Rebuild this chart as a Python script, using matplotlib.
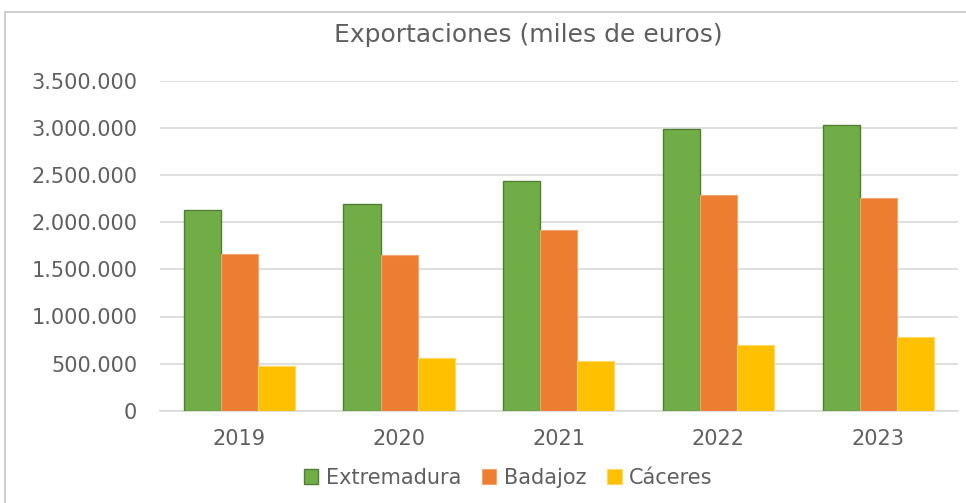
import matplotlib.pyplot as plt
import matplotlib.patches as mpatches
import numpy as np
from matplotlib.ticker import FuncFormatter

years = ['2019', '2020', '2021', '2022', '2023']
extremadura = [2126000, 2193000, 2441000, 2987000, 3030000]
badajoz = [1663000, 1649000, 1917000, 2295000, 2256000]
caceres = [477000, 561000, 530000, 699000, 784000]

plt.rcParams['font.family'] = ['DejaVu Sans']

fig = plt.figure(figsize=(9.66, 5.03), dpi=100)
ax = fig.add_axes([159.5/966, 1-410.7/503, (958-159.5)/966, (410.7-81)/503])

# marco del grafico
fig.patches.append(mpatches.Rectangle((5/966, -0.02), 1.0, 1.02-12/503, transform=fig.transFigure,
                                      fill=False, edgecolor='#d0d0d0', linewidth=1.5))

x = np.arange(len(years))
w = 0.232
ax.bar(x-w, extremadura, w, color='#70AD47', edgecolor='#507e32', linewidth=1, label='Extremadura', zorder=3)
ax.bar(x, badajoz, w, color='#ED7D31', edgecolor='#f3a56f', linewidth=0.8, label='Badajoz', zorder=3)
ax.bar(x+w, caceres, w, color='#FFC000', edgecolor='#ffd966', linewidth=0.8, label='Cáceres', zorder=3)

ax.set_xlim(-0.5, 4.5)
ax.set_ylim(0, 3500000)
ax.set_yticks(np.arange(0, 3500001, 500000))
ax.yaxis.set_major_formatter(FuncFormatter(lambda v, p: f'{int(v):,}'.replace(',', '.')))
ax.set_xticks(x)
ax.set_xticklabels(years)
ax.grid(axis='y', color='#d9d9d9', linewidth=1.2, zorder=0)
for s in ['top', 'right', 'left']:
    ax.spines[s].set_visible(False)
ax.spines['bottom'].set_color('#d9d9d9')
ax.spines['bottom'].set_linewidth(1.2)
ax.tick_params(length=0, labelsize=15, colors='#5f5f5f')
ax.tick_params(axis='y', pad=16)
ax.tick_params(axis='x', pad=13)

fig.text(528/966, 1-35/503, 'Exportaciones (miles de euros)', ha='center', va='center',
         fontsize=18, color='#5f5f5f')

fig.legend(loc='center', bbox_to_anchor=(508/966, 1-478/503), ncol=3, frameon=False, fontsize=15,
           handlelength=0.7, handleheight=0.7, handletextpad=0.35, columnspacing=1.0,
           labelcolor='#5f5f5f')

plt.savefig('out.png', dpi=100)
